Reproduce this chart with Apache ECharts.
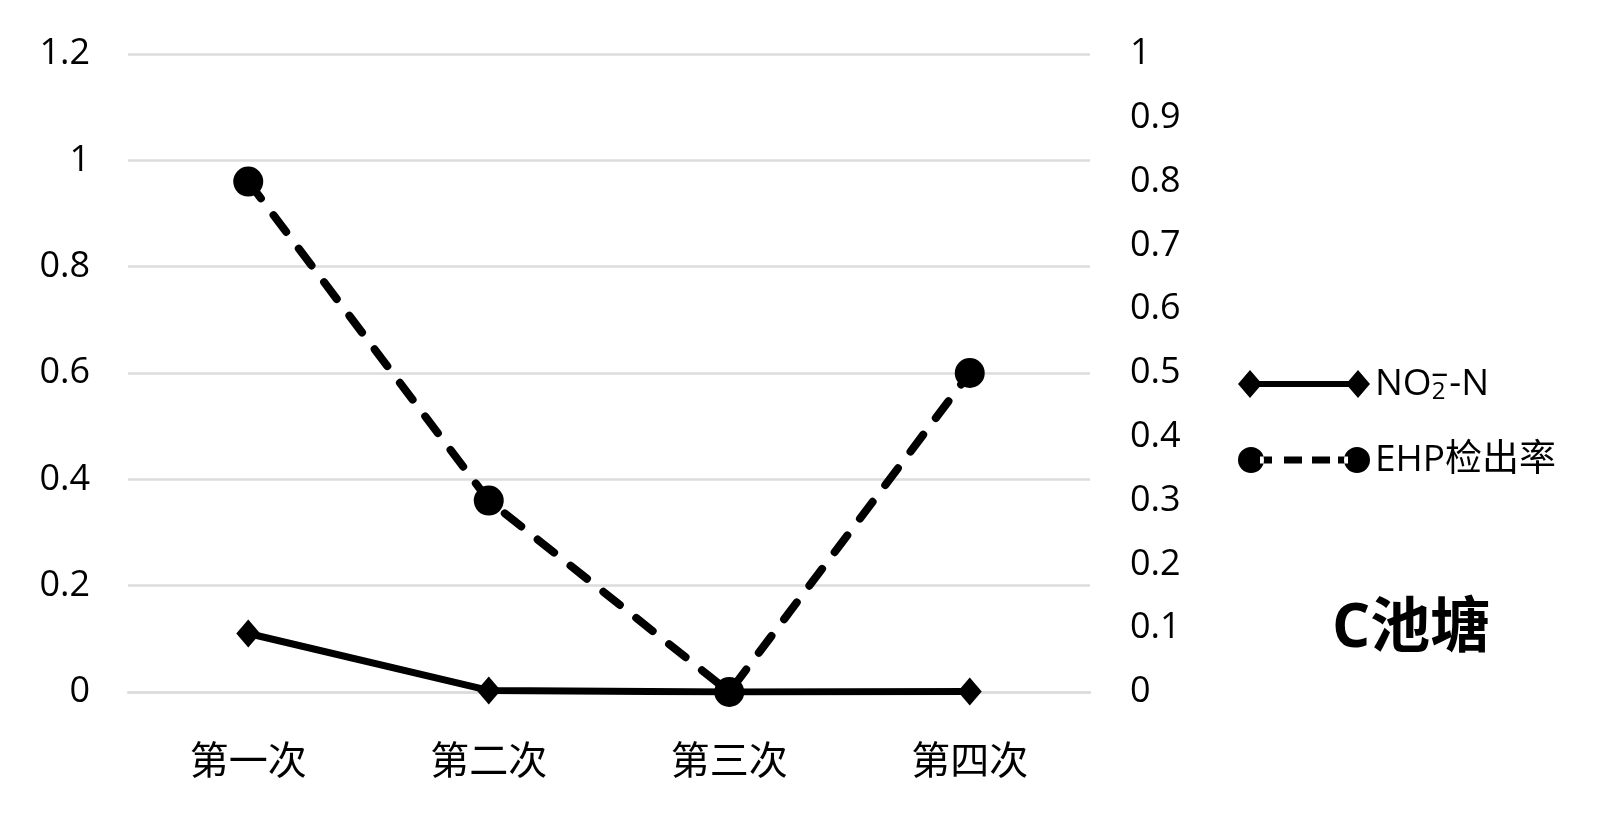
<!DOCTYPE html>
<html>
<head>
<meta charset="utf-8">
<script src="https://cdn.jsdelivr.net/npm/echarts@6/dist/echarts.min.js"></script>
<style>
html, body { margin: 0; padding: 0; background: #fff; }
#main { width: 1600px; height: 823px; }
</style>
</head>
<body>
<div id="main"></div>
<script>
var categories = ['第一次', '第二次', '第三次', '第四次'];
var no2Values = [0.11, 0.003, 0, 0.001];
var ehpRate = [0.8, 0.3, 0, 0.5];
var leftTicks = { min: 0, max: 1.2, interval: 0.2 };
var rightTicks = { min: 0, max: 1, interval: 0.1 };

var font = '"Open Sans", "Noto Sans CJK SC", sans-serif';

// legend icons: marker - line - marker, drawn as one path (132 x 28)
var diamondIcon = 'path://M0,14L12,0L24,14L12,28Z M12,11L120,11L120,17L12,17Z M108,14L120,0L132,14L120,28Z';
var circleIcon = 'path://M0,14A13,13 0 1,0 26,14A13,13 0 1,0 0,14Z M22,10.5L34,10.5L34,17.5L22,17.5Z M46,10.5L64,10.5L64,17.5L46,17.5Z M74,10.5L92,10.5L92,17.5L74,17.5Z M100,10.5L110,10.5L110,17.5L100,17.5Z M106,14A13,13 0 1,0 132,14A13,13 0 1,0 106,14Z';

var chart = echarts.init(document.getElementById('main'));
chart.setOption({
	backgroundColor: '#fff',
	animation: false,
	title: {
		text: 'C池塘',
		left: 1332,
		top: 600,
		padding: 0,
		textStyle: { fontSize: 60, fontWeight: 'bold', color: '#000', fontFamily: font }
	},
	legend: {
		orient: 'vertical',
		left: 1238,
		top: 364,
		padding: 0,
		itemWidth: 132,
		itemHeight: 28,
		itemGap: 36,
		textStyle: {
			fontSize: 37, color: '#000', fontFamily: font, lineHeight: 40,
			rich: {
				n: { fontSize: 37, fontFamily: font, color: '#000' },
				sub: { fontSize: 24, fontFamily: font, color: '#000', verticalAlign: 'bottom', lineHeight: 14 },
				sup: { fontSize: 36, fontFamily: '"DejaVu Sans", sans-serif', fontWeight: 'bold', color: '#000', lineHeight: 40, padding: [0, 0, 0, -15] }
			}
		},
		formatter: function (name) {
			if (name === 'NO2-N') return '{n|NO}{sub|2}{sup|⁻}{n|-N}';
			return name;
		},
		data: [
			{ name: 'NO2-N', icon: diamondIcon },
			{ name: 'EHP检出率', icon: circleIcon }
		]
	},
	grid: { left: 128, right: 510, top: 54, bottom: 131 },
	xAxis: {
		type: 'category',
		data: categories,
		axisLine: { lineStyle: { color: '#dcdcdc', width: 2.5 } },
		axisTick: { show: false },
		axisLabel: { fontSize: 39, color: '#000', margin: 48, fontFamily: '"Noto Sans CJK SC", sans-serif' }
	},
	yAxis: [
		{
			type: 'value',
			min: leftTicks.min,
			max: leftTicks.max,
			interval: leftTicks.interval,
			axisLine: { show: false },
			axisTick: { show: false },
			axisLabel: { fontSize: 36, color: '#000', margin: 38, fontFamily: font },
			splitLine: { lineStyle: { color: '#dcdcdc', width: 2.5 } }
		},
		{
			type: 'value',
			min: rightTicks.min,
			max: rightTicks.max,
			interval: rightTicks.interval,
			axisLine: { show: false },
			axisTick: { show: false },
			axisLabel: { fontSize: 36, color: '#000', margin: 40, fontFamily: font },
			splitLine: { show: false }
		}
	],
	series: [
		{
			name: 'NO2-N',
			type: 'line',
			yAxisIndex: 0,
			data: no2Values,
			color: '#000',
			symbol: 'diamond',
			symbolSize: [24, 28],
			lineStyle: { width: 7, color: '#000' },
			itemStyle: { color: '#000' }
		},
		{
			name: 'EHP检出率',
			type: 'line',
			yAxisIndex: 1,
			data: ehpRate,
			color: '#000',
			symbol: 'circle',
			symbolSize: 30,
			lineStyle: { width: 8, color: '#000', type: [21, 21], cap: 'round' },
			itemStyle: { color: '#000' }
		}
	]
});
</script>
</body>
</html>
